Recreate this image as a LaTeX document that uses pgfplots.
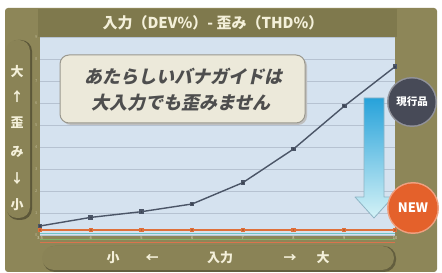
\documentclass[border=0pt]{standalone}
\usepackage{fontspec}
\setmainfont{Noto Sans CJK JP}
\newfontfamily\jpslant{Noto Sans CJK JP}[FakeSlant=0.22]
\usepackage{pgfplots}
\pgfplotsset{compat=1.18}
\definecolor{olivebg}{HTML}{8D8658}
\definecolor{oliveband}{HTML}{7F794D}
\definecolor{olivebar}{HTML}{8A8356}
\definecolor{cream}{HTML}{F4F0DA}
\definecolor{plotbg}{HTML}{D5E2EF}
\definecolor{gridc}{HTML}{B6C2D1}
\definecolor{linec}{HTML}{4B5567}
\definecolor{newor}{HTML}{E0703A}
\definecolor{tealc}{HTML}{70C4C6}
\definecolor{greenc}{HTML}{7FB36A}
\definecolor{redc}{HTML}{D9744E}
\definecolor{callfill}{HTML}{ECE9DA}
\definecolor{calledge}{HTML}{9A988E}
\definecolor{calltext}{HTML}{4E4E4E}
\definecolor{curgray}{HTML}{474A57}
\definecolor{neworange}{HTML}{E4612B}
\definecolor{arrowtop}{HTML}{27A2DA}
\definecolor{arrowbot}{HTML}{D4F2F6}
\definecolor{arrowedge}{HTML}{8FB4C4}
\begin{document}
\begin{tikzpicture}[x=1pt,y=1pt]
\useasboundingbox (0,0) rectangle (442,273);
\fill[white] (0,0) rectangle (442,273);
\fill[olivebg, rounded corners=3pt] (5,1) rectangle (437,265);
\fill[oliveband] (38,236) rectangle (397,264);
\node[text=cream, font=\bfseries\fontsize{15}{15}\selectfont] at (213,250) {入力（DEV\%）- 歪み（THD\%）};
% left vertical bar
\fill[black!35!olivebg, rounded corners=11pt] (7,53) rectangle (32,233);
\fill[olivebar, rounded corners=11pt] (6,55) rectangle (30,233);
\begin{scope}[text=cream, font=\bfseries\fontsize{13}{13}\selectfont]
\node at (17,201) {大};
\node at (17,176) {↑};
\node at (17,150) {歪};
\node at (17,121) {み};
\node at (17,94) {↓};
\node at (17,68) {小};
\end{scope}
% bottom bar
\fill[black!30!olivebg, rounded corners=12pt] (43,1) rectangle (396,27);
\fill[olivebar, rounded corners=12pt] (42,3) rectangle (394,27);
\begin{scope}[text=cream, font=\bfseries\fontsize{13}{13}\selectfont]
\node at (113,15) {小};
\node at (152,15) {←};
\node at (220,15) {入力};
\node at (290,15) {→};
\node at (323,15) {大};
\end{scope}
\begin{axis}[
  at={(40pt,38pt)}, anchor=south west,
  scale only axis, width=355pt, height=198pt,
  xmin=0, xmax=7, ymin=0, ymax=9,
  axis background/.style={fill=plotbg},
  axis line style={draw=none},
  xtick={0,...,7}, xticklabels={3.5,4,5,6,7,8,9,10},
  ytick={0,...,9},
  major tick length=0pt,
  ymajorgrids, grid style={gridc, line width=0.8pt},
  /pgf/number format/assume math mode=true,
  xticklabel style={font=\fontsize{4}{4}\selectfont, text=cream!80!olivebg, yshift=2pt},
  yticklabel style={font=\fontsize{4}{4}\selectfont, text=cream!45!olivebg, xshift=1pt},
  clip=false,
]
\addplot[redc, line width=0.9pt] coordinates {(0,-0.36)(1,-0.36)(2,-0.36)(3,-0.36)(4,-0.36)(5,-0.36)(6,-0.36)(7,-0.36)};
\addplot[greenc, line width=0.9pt] coordinates {(0,-0.18)(1,-0.18)(2,-0.18)(3,-0.18)(4,-0.18)(5,-0.18)(6,-0.18)(7,-0.18)};
\addplot[tealc, line width=1pt] coordinates {(0,0.09)(1,0.09)(2,0.09)(3,0.09)(4,0.09)(5,0.09)(6,0.09)(7,0.09)};
\addplot[newor, line width=1.2pt, mark=square*, mark size=1.5pt, mark options={fill=newor!85!black}] coordinates {(0,0.23)(1,0.23)(2,0.23)(3,0.23)(4,0.23)(5,0.23)(6,0.23)(7,0.23)};
\addplot[linec, line width=1.4pt, mark=square*, mark size=1.6pt, mark options={fill=linec!80!black}] coordinates {(0,0.41)(1,0.80)(2,1.06)(3,1.41)(4,2.38)(5,3.91)(6,5.86)(7,7.65)};
\end{axis}
% callout
\fill[black!25, rounded corners=9pt] (62,148) rectangle (307,216);
\filldraw[fill=callfill, draw=calledge, line width=1pt, rounded corners=9pt] (60,150) rectangle (305,218);
\node[text=calltext, font=\jpslant\bfseries\fontsize{18}{18}\selectfont] at (183,196) {あたらしいバナガイドは};
\node[text=calltext, font=\jpslant\bfseries\fontsize{18}{18}\selectfont] at (181,170) {大入力でも歪みません};
% arrow
\shadedraw[top color=arrowtop, bottom color=arrowbot, draw=arrowedge, line width=0.8pt, line join=round]
 (364,175) -- (384,175) -- (384,76) -- (393,76) -- (374,55) -- (355,76) -- (364,76) -- cycle;
% circles
\fill[curgray!60!white] (412,171) circle (25);
\fill[curgray] (412,171) circle (23.5);
\node[text=white, font=\bfseries\fontsize{10.5}{10.5}\selectfont] at (412,171) {現行品};
\fill[neworange!60!white] (413,65) circle (26);
\fill[neworange] (413,65) circle (24.5);
\node[text=white, font=\bfseries\fontsize{13}{13}\selectfont] at (413,65) {NEW};
\end{tikzpicture}
\end{document}
